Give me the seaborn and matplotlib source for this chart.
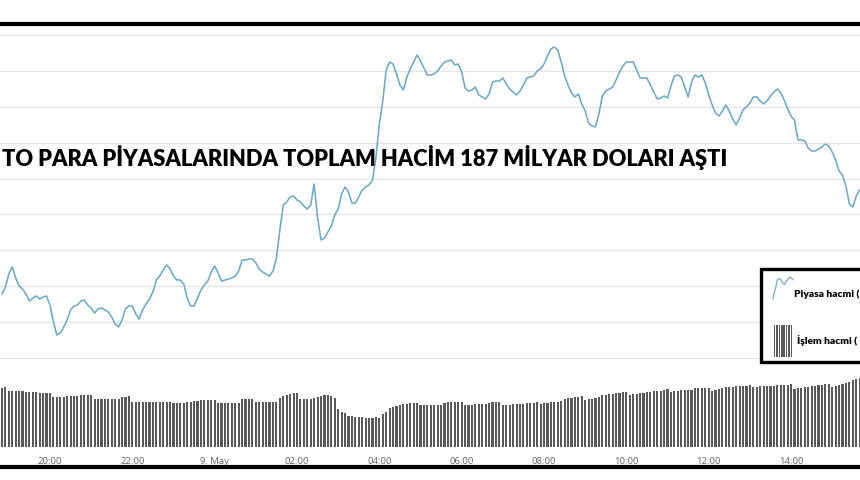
import numpy as np
import pandas as pd
import matplotlib
matplotlib.use("Agg")
import matplotlib.pyplot as plt
import seaborn as sns
from matplotlib.lines import Line2D
from matplotlib.patches import Rectangle

# ---------------- data ----------------
title_text = "TO PARA PİYASALARINDA TOPLAM HACİM 187 MİLYAR DOLARI AŞTI"
legend_labels = ["Piyasa hacmi (", "İşlem hacmi ("]
tick_hours = [-4, -2, 0, 2, 4, 6, 8, 10, 12, 14]
tick_labels = ["20:00", "22:00", "9. May", "02:00", "04:00",
               "06:00", "08:00", "10:00", "12:00", "14:00"]
start_time = "2021-05-08 18:50"

# market volume (line), 5-minute samples, arbitrary units above the lowest gridline
market_volume = [
    64, 71, 84, 91, 80, 72, 69, 64, 57, 60,
    62, 59, 61, 62, 53, 36, 23, 25, 31, 38,
    48, 52, 53, 57, 58, 53, 50, 45, 49, 50,
    48, 46, 41, 34, 31, 38, 49, 52, 52, 44,
    39, 48, 54, 59, 66, 78, 82, 88, 93, 89,
    82, 78, 78, 74, 60, 52, 52, 60, 68, 73,
    77, 86, 92, 85, 77, 78, 79, 80, 82, 87,
    98, 98, 99, 99, 95, 89, 86, 84, 82, 87,
    100, 128, 153, 156, 161, 162, 158, 156, 152, 149,
    153, 174, 140, 118, 120, 126, 132, 143, 149, 164,
    171, 166, 155, 155, 161, 168, 171, 173, 178, 200,
    234, 257, 288, 296, 294, 284, 273, 268, 281, 289,
    296, 303, 297, 290, 283, 283, 284, 287, 292, 296,
    297, 298, 293, 294, 286, 270, 267, 268, 271, 263,
    261, 259, 264, 276, 277, 277, 280, 274, 269, 266,
    263, 267, 273, 280, 281, 282, 287, 289, 294, 302,
    309, 311, 308, 296, 282, 273, 265, 261, 264, 254,
    247, 235, 232, 231, 244, 262, 267, 269, 271, 278,
    286, 292, 296, 296, 296, 288, 280, 280, 280, 273,
    266, 259, 260, 262, 260, 272, 282, 283, 281, 271,
    261, 276, 283, 281, 283, 275, 263, 253, 245, 242,
    247, 253, 247, 239, 233, 240, 248, 251, 255, 261,
    261, 257, 254, 257, 262, 266, 269, 265, 258, 249,
    242, 238, 218, 218, 217, 210, 207, 207, 209, 211,
    214, 212, 206, 198, 187, 183, 172, 154, 151, 162,
    168,
]

# trade volume (bars), 5-minute samples
trade_volume = [
    59, 60,
    56, 56, 56, 56, 56,
    55, 55, 55, 55,
    54, 54, 54, 54,
    50, 50, 50, 50,
    51, 51, 51, 51,
    52, 52, 52, 52,
    48, 48, 48, 48, 48, 48, 48, 48,
    50, 50, 51,
    45, 45, 45, 45, 45, 45, 45, 45, 45, 45, 45, 45,
    44, 44, 44, 44, 45, 45, 46, 46,
    47, 47, 47, 47, 47,
    44, 44, 44, 44, 44, 44, 44,
    48, 48, 48, 48,
    45, 45, 45, 45, 45, 45, 45,
    49, 51, 52, 53, 54, 54,
    48, 48, 48, 48,
    49, 50, 51, 52, 52, 51,
    49,
    38,
    35, 34,
    31, 31, 30,
    30, 30, 29, 29, 29, 30, 29,
    33, 35,
    39, 40, 41,
    42, 43, 43, 44, 44, 44,
    42, 42, 42, 42, 42, 42, 42,
    44, 45, 45, 45, 45, 45,
    42, 42, 42, 43, 43, 43, 43,
    44, 45, 45, 45,
    42, 42, 42, 43, 43, 43, 43, 44, 44, 44, 45,
    43, 44, 44, 45, 45, 45, 46,
    48, 49, 49, 50, 50, 51,
    47, 48, 48, 49, 50,
    52, 52, 53, 53, 54, 54, 55, 55,
    52, 53, 53, 54, 54, 55, 55, 56, 56, 56, 57, 58,
    55, 56, 56, 57, 57, 57, 57,
    59, 59, 59, 59, 59,
    56, 57, 58, 59, 60, 60, 60, 61, 61, 61, 61, 62,
    60, 60, 61, 61, 61, 61, 61, 62, 62, 62, 62, 63,
    58, 59, 59, 60, 60, 61, 61, 62, 62, 63, 63,
    60, 61, 62, 63, 64, 65, 67, 68, 69,
]

times = pd.date_range(start_time, periods=len(market_volume), freq="5min")
hours = (times - pd.Timestamp("2021-05-09")) / pd.Timedelta(hours=1)
df = pd.DataFrame({"hour": np.asarray(hours, dtype=float),
                   "market": market_volume,
                   "trade": trade_volume})

# ---------------- style ----------------
sns.set_theme(style="white")
plt.rcParams["font.family"] = ["Lato", "DejaVu Sans"]

W, H = 860, 480
fig = plt.figure(figsize=(W / 100, H / 100), dpi=100)
fig.patch.set_facecolor("white")

XMIN, XMAX = -5.214, 15.675
LINE_COLOR = "#70a9c6"
BAR_COLOR = "#5a5a5a"
GRID_COLOR = "#e6e6e6"


def fx(px):
    return px / W


def fy(py):
    return 1 - py / H


# ---- line pane ----
ax = fig.add_axes([0, fy(359), 1, 325 / H])
sns.lineplot(data=df, x="hour", y="market", ax=ax, color=LINE_COLOR,
             linewidth=1.15, zorder=3)
ax.set_xlim(XMIN, XMAX)
ax.set_ylim(-1, 324)
ax.set_yticks(np.arange(10) * 35.9)
ax.set_xticks([])
ax.yaxis.grid(True, color=GRID_COLOR, linewidth=1.0)
ax.tick_params(left=False, labelleft=False, bottom=False, labelbottom=False)
ax.set_xlabel("")
ax.set_ylabel("")
for s in ax.spines.values():
    s.set_visible(False)
ax.set_facecolor("none")

# ---- bar pane ----
axb = fig.add_axes([0, fy(447), 1, 89 / H])
sns.barplot(data=df, x="hour", y="trade", native_scale=True, ax=axb,
            color=BAR_COLOR, saturation=1, width=0.62, errorbar=None,
            linewidth=0)
axb.set_xlim(XMIN, XMAX)
axb.set_ylim(0, 89)
axb.set_xticks(tick_hours)
axb.set_xticklabels(tick_labels)
axb.set_yticks([])
axb.tick_params(axis="x", length=5, width=0.8, color="#cccccc",
                labelsize=6.8, labelcolor="#666666", pad=2)
for lab in axb.get_xticklabels():
    lab.set_family(["Open Sans", "DejaVu Sans"])
axb.set_xlabel("")
axb.set_ylabel("")
for s in axb.spines.values():
    s.set_visible(False)
axb.set_facecolor("none")

# ---- thick black frame lines ----
fig.add_artist(Line2D([0, 1], [fy(24), fy(24)], transform=fig.transFigure,
                      color="black", linewidth=3.0))
fig.add_artist(Line2D([0, 1], [fy(467), fy(467)], transform=fig.transFigure,
                      color="black", linewidth=3.0))

# ---- title ----
t = fig.text(fx(2), fy(157), title_text, fontsize=17, fontweight="heavy",
             color="black", ha="left", va="center",
             family=["Lato", "DejaVu Sans"], zorder=10)
fig.canvas.draw()
bb = t.get_window_extent()
t.set_fontsize(17 * 728 / bb.width)

# ---- legend box ----
fig.add_artist(Rectangle((fx(761), fy(362)), 0.2, 93 / H,
                         transform=fig.transFigure, facecolor="white",
                         edgecolor="black", linewidth=2.4, zorder=8))

ic1 = fig.add_axes([fx(772), fy(300), 22 / W, 24 / H])
ic1.set_zorder(9)
seg = df.iloc[109:124]
sns.lineplot(data=seg, x="hour", y="market", ax=ic1, color=LINE_COLOR,
             linewidth=0.9)
ic1.set_axis_off()

ic2 = fig.add_axes([fx(773), fy(357), 20 / W, 32 / H])
ic2.set_zorder(9)
seg2 = df.iloc[38:46]
sns.barplot(data=seg2, x="hour", y="trade", native_scale=True, ax=ic2,
            color=BAR_COLOR, saturation=1, width=0.6, errorbar=None,
            linewidth=0)
ic2.set_ylim(0, 45)
ic2.set_axis_off()

fig.text(fx(794), fy(294), legend_labels[0], fontsize=7.4, fontweight="heavy",
         color="black", ha="left", va="center", zorder=10,
         family=["Lato", "DejaVu Sans"])
fig.text(fx(797), fy(341), legend_labels[1], fontsize=7.4, fontweight="heavy",
         color="black", ha="left", va="center", zorder=10,
         family=["Lato", "DejaVu Sans"])

fig.savefig("out.png", dpi=100, facecolor="white")
